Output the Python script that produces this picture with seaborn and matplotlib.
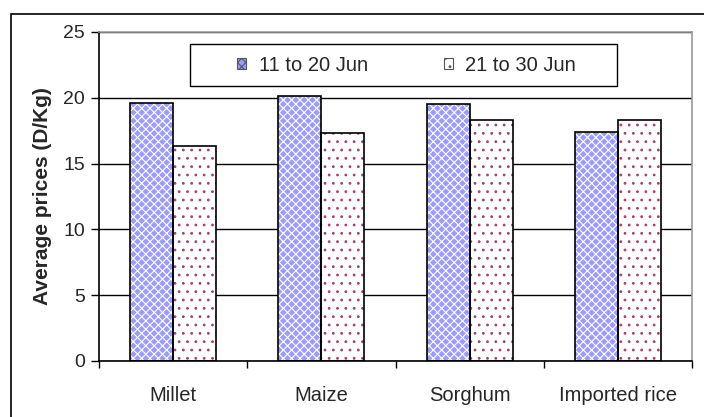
import pandas as pd
import matplotlib.pyplot as plt
import seaborn as sns
from matplotlib.patches import Rectangle

# Chart values
commodities = ['Millet', 'Maize', 'Sorghum', 'Imported rice']
period_1 = [19.6, 20.1, 19.5, 17.4]
period_2 = [16.3, 17.3, 18.3, 18.3]
periods = ['11 to 20 Jun', '21 to 30 Jun']

df = pd.DataFrame({
    'Commodity': commodities * 2,
    'Price': period_1 + period_2,
    'Period': [periods[0]] * len(commodities) + [periods[1]] * len(commodities),
})

sns.set_style('white')
plt.rcParams['font.family'] = ['Liberation Sans', 'DejaVu Sans']
plt.rcParams['hatch.linewidth'] = 0.8

fig = plt.figure(figsize=(7.04, 4.17), dpi=100)
ax = fig.add_axes([0.1406, 0.1343, 0.8424, 0.789])

sns.barplot(data=df, x='Commodity', y='Price', hue='Period', ax=ax,
            width=0.58, gap=0, legend=False, saturation=1)

styles = {
    0: dict(face='#9c9cff', hatch='xxxx', hcol='white'),
    1: dict(face='white', hatch='..', hcol='#a3406e'),
}
bars = [p for p in ax.patches if isinstance(p, Rectangle)]
n = len(commodities)
for i, p in enumerate(bars[:2 * n]):
    st = styles[i // n]
    p.set_facecolor(st['face'])
    p.set_hatch(st['hatch'])
    p.set_edgecolor(st['hcol'])
    p.set_linewidth(0)
    ax.add_patch(Rectangle(p.get_xy(), p.get_width(), p.get_height(),
                           fill=False, edgecolor='black', linewidth=1.2, zorder=3))

ax.set_ylim(0, 25)
ax.set_xlim(-0.5, n - 0.5)
ax.set_yticks(range(0, 26, 5))
ax.yaxis.grid(True, color='black', linewidth=1)
ax.set_axisbelow(True)
ax.set_xticks([i - 0.5 for i in range(n + 1)], minor=True)
ax.tick_params(axis='x', which='major', length=0, pad=18, labelsize=14.5)
ax.tick_params(axis='x', which='minor', length=5, width=1, color='black', direction='out', bottom=True)
ax.tick_params(axis='y', length=6, width=1, color='black', direction='out', left=True, labelsize=14, pad=4)

for side in ['left', 'bottom']:
    ax.spines[side].set_color('black')
    ax.spines[side].set_linewidth(1.2)
for side in ['top', 'right']:
    ax.spines[side].set_visible(True)
    ax.spines[side].set_color('#999999')
    ax.spines[side].set_linewidth(1.2)

ax.set_xlabel('')
ax.set_ylabel('Average prices (D/Kg)', fontsize=15, fontweight='bold', labelpad=8)

# legend box drawn separately so the entries can sit centred inside it
ax.add_patch(Rectangle((0.153, 0.836), 0.721, 0.127, transform=ax.transAxes,
                       facecolor='white', edgecolor='black', linewidth=1, zorder=4))
handles = [Rectangle((0, 0), 1, 1, facecolor=styles[k]['face'], hatch=styles[k]['hatch'],
                     edgecolor='#555555', linewidth=0.8) for k in range(2)]
leg = ax.legend(handles, periods, ncol=2, loc='center',
                bbox_to_anchor=(0.519, 0.8995), fontsize=14.5, frameon=False,
                handlelength=0.45, handleheight=0.45, handletextpad=0.6,
                borderpad=0, columnspacing=3.8)
leg.set_zorder(5)

# outer chart frame (only top and left fall inside the picture)
fig.patches.append(Rectangle((11 / 704, -0.1), 1.2, 1 - 14 / 417 + 0.1,
                             transform=fig.transFigure, fill=False,
                             edgecolor='black', linewidth=1.2))

fig.savefig('out.png', dpi=100)
